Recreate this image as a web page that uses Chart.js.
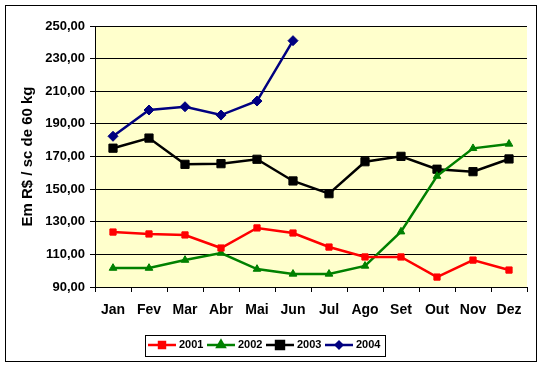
<!DOCTYPE html>
<html><head><meta charset="utf-8">
<script src="https://cdn.jsdelivr.net/npm/chart.js@4/dist/chart.umd.min.js"></script>
<style>html,body{margin:0;padding:0;background:#fff}canvas{display:block}</style>
</head><body>
<canvas id="c" width="543" height="367"></canvas>
<script>
const months = ['Jan','Fev','Mar','Abr','Mai','Jun','Jul','Ago','Set','Out','Nov','Dez'];
const seriesNames = ['2001','2002','2003','2004'];
const s2001 = [123.7,122.5,121.9,113.9,126.2,123.1,114.5,108.4,108.4,96.1,106.5,100.4];
const s2002 = [101.6,101.6,106.5,110.8,101.0,98.0,98.0,102.9,123.9,158.0,175.0,177.7];
const s2003 = [175.1,181.3,165.2,165.6,168.3,155.0,147.2,166.8,170.1,162.2,160.7,168.5];
const s2004 = [182.4,198.5,200.5,195.4,204.0,241.0,null,null,null,null,null,null];
const yMin = 90, yMax = 250, yStep = 20;
const yTitle = 'Em R$ / sc de 60 kg';

const FONT = '"Liberation Sans", Arial, sans-serif';

const bgPlugin = {
  id: 'bg',
  beforeDraw(chart) {
    const {ctx, chartArea: a} = chart;
    ctx.save();
    ctx.fillStyle = '#fff';
    ctx.fillRect(0, 0, chart.width, chart.height);
    ctx.strokeStyle = '#000';
    ctx.lineWidth = 1;
    ctx.strokeRect(5.5, 5.5, 531, 356);
    ctx.fillStyle = '#FFFFCC';
    ctx.fillRect(a.left, a.top, a.right - a.left, a.bottom - a.top);
    ctx.restore();
  }
};

const legendPlugin = {
  id: 'boxLegend',
  afterDraw(chart) {
    const ctx = chart.ctx;
    ctx.save();
    ctx.fillStyle = '#fff';
    ctx.fillRect(145.5, 335.5, 240, 21);
    ctx.strokeStyle = '#000';
    ctx.lineWidth = 1;
    ctx.strokeRect(145.5, 335.5, 240, 21);
    chart.data.datasets.forEach((ds, i) => {
      const x0 = 148 + 59 * i, y = 345;
      ctx.strokeStyle = ds.borderColor;
      ctx.lineWidth = ds.borderWidth;
      ctx.beginPath(); ctx.moveTo(x0, y); ctx.lineTo(x0 + 28, y); ctx.stroke();
      ctx.fillStyle = ds.backgroundColor;
      ctx.strokeStyle = ds.borderColor;
      Chart.helpers.drawPoint(ctx, {pointStyle: ds.pointStyle, radius: ds.legendRadius, borderWidth: 1, rotation: 0}, x0 + 14, y);
      ctx.fillStyle = '#000';
      ctx.font = 'bold 11px ' + FONT;
      ctx.textBaseline = 'middle';
      ctx.textAlign = 'left';
      ctx.fillText(ds.label, x0 + 31, y);
    });
    ctx.restore();
  }
};

const colors = ['#FF0000', '#008000', '#000000', '#000080'];
const styles = ['rect', 'triangle', 'rect', 'rectRot'];
const radii = [4.4, 4.4, 5.8, 5.0];
const legendR = [4.2, 4.2, 5.6, 3.2];
const values = [s2001, s2002, s2003, s2004];

new Chart(document.getElementById('c'), {
  type: 'line',
  data: {
    labels: months,
    datasets: values.map((v, i) => ({
      label: seriesNames[i],
      data: v,
      borderColor: colors[i],
      backgroundColor: colors[i],
      borderWidth: 2.5,
      pointStyle: styles[i],
      pointRadius: radii[i],
      legendRadius: legendR[i],
      pointBorderWidth: 1,
      tension: 0,
      spanGaps: false
    }))
  },
  options: {
    responsive: false,
    animation: false,
    devicePixelRatio: 1,
    layout: {padding: {top: 26, right: 16, left: 0, bottom: 0}},
    plugins: {legend: {display: false}, tooltip: {enabled: false}},
    scales: {
      x: {
        offset: true,
        grid: {display: true, drawOnChartArea: false, drawTicks: true, tickLength: 5, color: '#000', offset: true},
        border: {color: '#000', width: 1},
        ticks: {color: '#000', font: {family: FONT, size: 14, weight: 'bold'}, padding: 10, maxRotation: 0, autoSkip: false},
        afterFit(s) { s.height = 80; }
      },
      y: {
        min: yMin, max: yMax,
        grid: {color: '#000', lineWidth: 1, tickLength: 5},
        border: {color: '#000', width: 1},
        ticks: {stepSize: yStep, color: '#000', padding: 5, font: {family: FONT, size: 13, weight: 'bold'},
                callback: v => v.toFixed(2).replace('.', ',')},
        title: {display: true, text: yTitle, color: '#000', font: {family: FONT, size: 15, weight: 'bold'}, padding: {top: 19, bottom: 0}},
        afterFit(s) { s.width = 95; }
      }
    }
  },
  plugins: [bgPlugin, legendPlugin]
});
</script>
</body></html>
